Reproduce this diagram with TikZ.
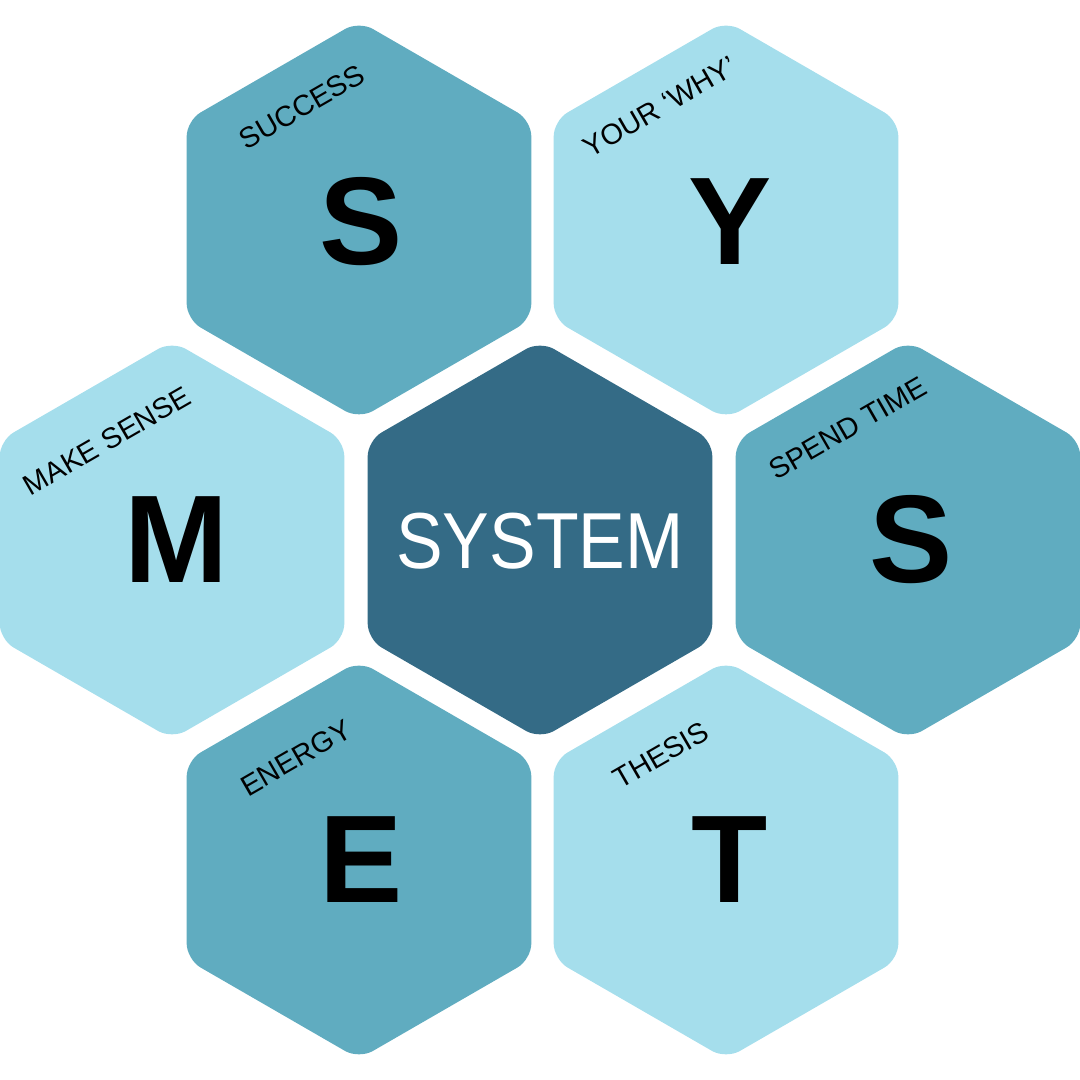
\documentclass[tikz,border=0pt]{standalone}
\usepackage{fontspec}
\setmainfont{Liberation Sans}
\newfontfamily\systemfont[FakeStretch=0.88]{Liberation Sans}

\definecolor{hexdark}{HTML}{346B86}
\definecolor{hexmid}{HTML}{60ACC0}
\definecolor{hexlight}{HTML}{A5DEEC}

\tikzset{
  hexcell/.style={rounded corners=1.6mm},
  bigletter/.style={font=\fontsize{35.5}{36}\selectfont\bfseries, text=black, inner sep=0pt},
  hextag/.style={font=\fontsize{8.2}{9}\selectfont, text=black, rotate=30, inner sep=0pt}
}
\newcommand{\hexcellat}[2]{%
  \fill[#2, hexcell, shift={(#1)}] (90:1.99) -- (150:1.99) -- (210:1.99)
    -- (270:1.99) -- (330:1.99) -- (30:1.99) -- cycle;}

\begin{document}
\begin{tikzpicture}
  \useasboundingbox (0,0) rectangle (10.8,10.8);
  \coordinate (system) at (5.40,5.40);
  \coordinate (success) at (3.59,8.60);
  \coordinate (why) at (7.26,8.60);
  \coordinate (sense) at (1.72,5.40);
  \coordinate (time) at (9.08,5.40);
  \coordinate (energy) at (3.59,2.20);
  \coordinate (thesis) at (7.26,2.20);

  \hexcellat{system}{hexdark}
  \hexcellat{success}{hexmid}
  \hexcellat{why}{hexlight}
  \hexcellat{sense}{hexlight}
  \hexcellat{time}{hexmid}
  \hexcellat{energy}{hexmid}
  \hexcellat{thesis}{hexlight}

  \node[text=white, inner sep=0pt, font=\systemfont\fontsize{22.6}{24}\selectfont] (systemtext) at (5.40,5.39) {SYSTEM};

  \node[bigletter] (letterS) at (3.61,8.58) {S};
  \node[bigletter] (letterY) at (7.30,8.58) {Y};
  \node[bigletter] (letterM) at (1.76,5.40) {M};
  \node[bigletter] (letterS2) at (9.11,5.40) {S};
  \node[bigletter] (letterE) at (3.61,2.20) {E};
  \node[bigletter] (letterT) at (7.30,2.20) {T};

  \node[hextag] (tagsuccess) at (3.02,9.73) {SUCCESS};
  \node[hextag] (tagwhy) at (6.60,9.73) {YOUR ‘WHY’};
  \node[hextag] (tagsense) at (1.07,6.39) {MAKE SENSE};
  \node[hextag] (tagtime) at (8.48,6.52) {SPEND TIME};
  \node[hextag] (tagenergy) at (2.96,3.22) {ENERGY};
  \node[hextag] (tagthesis) at (6.61,3.25) {THESIS};
\end{tikzpicture}
\end{document}
